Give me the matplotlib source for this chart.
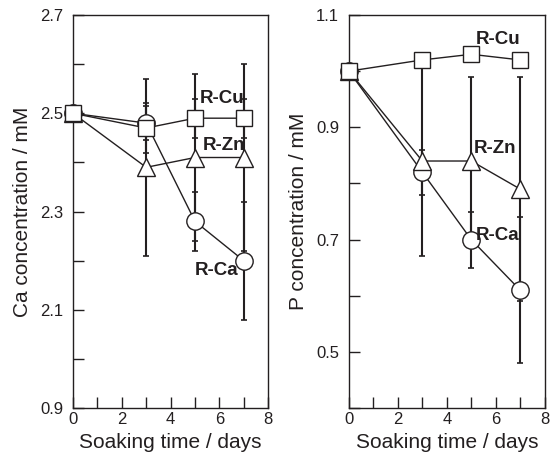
import matplotlib
matplotlib.use('Agg')
from matplotlib import pyplot as plt
from matplotlib.ticker import MultipleLocator, FixedLocator

plt.rcParams['font.family'] = ['Liberation Sans', 'DejaVu Sans']

# soaking time (days)
days = [0, 3, 5, 7]

# Ca concentration (mM) and error bars
ca_rca = [2.50, 2.48, 2.28, 2.20]
ca_rca_err = [0, 0.035, 0.06, 0.12]
ca_rzn = [2.50, 2.39, 2.41, 2.41]
ca_rzn_err = [0, 0.18, 0.17, 0.19]
ca_rcu = [2.50, 2.47, 2.49, 2.49]
ca_rcu_err = [0, 0.05, 0.04, 0.04]
ca_ticks = [1.9, 2.1, 2.3, 2.5, 2.7]
ca_ticklabels = ['0.9', '2.1', '2.3', '2.5', '2.7']

# P concentration (mM) and error bars
p_rca = [1.00, 0.82, 0.70, 0.61]
p_rca_err = [0, 0.04, 0.05, 0.13]
p_rzn = [1.00, 0.84, 0.84, 0.79]
p_rzn_err = [0, 0.17, 0.15, 0.20]
p_rcu = [1.00, 1.02, 1.03, 1.02]
p_rcu_err = [0, 0, 0, 0]
p_ticks = [0.5, 0.7, 0.9, 1.1]
p_ticklabels = ['0.5', '0.7', '0.9', '1.1']

ink = '#231f20'

fig = plt.figure(figsize=(5.53, 4.54), dpi=100)
ax1 = fig.add_axes([0.132, 0.101, 0.353, 0.866])
ax2 = fig.add_axes([0.631, 0.101, 0.354, 0.866])


def draw_panel(ax, series, ylim, ticks, ticklabels, minor, ylabel, labels):
    # error bars first so the white markers sit on top
    for y, err, m in series:
        ax.errorbar(days, y, yerr=err, fmt='none', ecolor=ink, elinewidth=1.5,
                    capsize=2.2, capthick=1.2, zorder=2)
    for y, err, m in series:
        ax.plot(days, y, color=ink, lw=1.0, marker=m, ms=12.5 if m != 's' else 12,
                mfc='white', mec=ink, mew=1.0, zorder=3, clip_on=False)
    ax.set_xlim(0, 8)
    ax.set_ylim(*ylim)
    ax.xaxis.set_major_locator(MultipleLocator(2))
    ax.xaxis.set_minor_locator(MultipleLocator(1))
    ax.yaxis.set_major_locator(FixedLocator(ticks))
    ax.set_yticklabels(ticklabels)
    ax.yaxis.set_minor_locator(MultipleLocator(minor))
    ax.tick_params(axis='both', which='both', direction='in', length=8,
                   width=1.0, color=ink, labelsize=12, labelcolor=ink)
    ax.tick_params(axis='x', which='both', pad=3)
    ax.tick_params(axis='y', which='both', pad=7)
    for s in ax.spines.values():
        s.set_linewidth(1.0)
        s.set_color(ink)
    ax.set_xlabel('Soaking time / days', fontsize=15, color=ink, labelpad=4)
    ax.set_ylabel(ylabel, fontsize=15, color=ink, labelpad=6)
    for txt, x, y in labels:
        ax.text(x, y, txt, fontsize=13.5, fontweight='bold', color=ink,
                ha='left', va='center', zorder=4)


draw_panel(ax1,
           [(ca_rca, ca_rca_err, 'o'), (ca_rzn, ca_rzn_err, '^'), (ca_rcu, ca_rcu_err, 's')],
           (1.9, 2.7), ca_ticks, ca_ticklabels, 0.1, 'Ca concentration / mM',
           [('R-Cu', 5.2, 2.53), ('R-Zn', 5.3, 2.435), ('R-Ca', 5.0, 2.18)])

draw_panel(ax2,
           [(p_rca, p_rca_err, 'o'), (p_rzn, p_rzn_err, '^'), (p_rcu, p_rcu_err, 's')],
           (0.4, 1.1), p_ticks, p_ticklabels, 0.1, 'P concentration / mM',
           [('R-Cu', 5.2, 1.056), ('R-Zn', 5.1, 0.863), ('R-Ca', 5.2, 0.707)])

fig.savefig('out.png', dpi=100)
